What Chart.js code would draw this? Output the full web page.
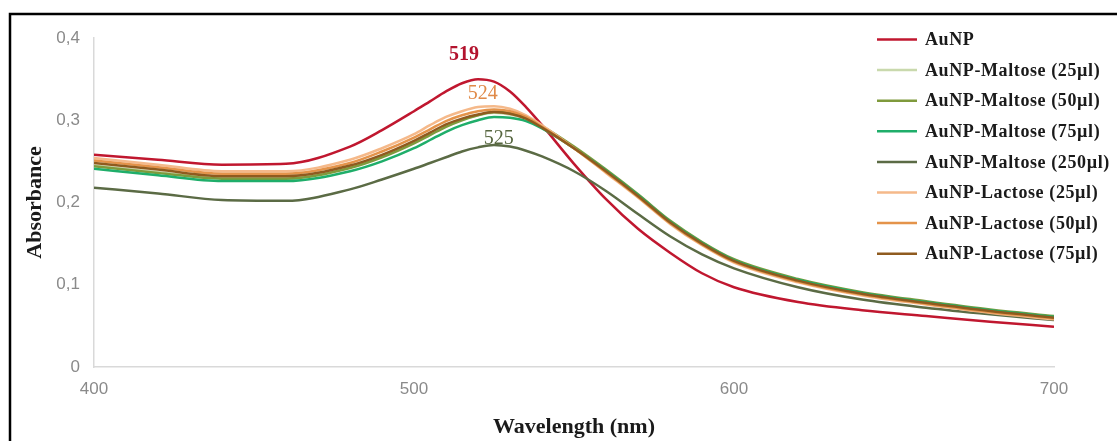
<!DOCTYPE html>
<html>
<head>
<meta charset="utf-8">
<script src="https://cdn.jsdelivr.net/npm/chart.js@4.4.1/dist/chart.umd.min.js"></script>
<style>
    html, body { margin: 0; padding: 0; background: #ffffff; }
    #chart { display: block; }
</style>
</head>
<body>
<canvas id="chart" width="1117" height="441"></canvas>
<script>
// Wavelengths (nm) shared by every series
const wavelengths = [400, 420, 440, 460, 480, 490, 500, 505, 510, 515, 520, 525, 530, 535, 540, 550, 560, 570, 580, 590, 600, 620, 640, 660, 680, 700];

// Absorbance values
const auNP         = [0.258, 0.252, 0.246, 0.247, 0.268, 0.288, 0.311, 0.323, 0.335, 0.345, 0.350, 0.347, 0.335, 0.316, 0.294, 0.247, 0.204, 0.168, 0.139, 0.114, 0.097, 0.079, 0.069, 0.062, 0.055, 0.049];
const maltose25    = [0.245, 0.237, 0.230, 0.230, 0.243, 0.256, 0.273, 0.283, 0.293, 0.301, 0.306, 0.309, 0.307, 0.302, 0.291, 0.266, 0.238, 0.208, 0.176, 0.150, 0.129, 0.105, 0.089, 0.078, 0.068, 0.060];
const maltose50    = [0.244, 0.236, 0.229, 0.229, 0.242, 0.255, 0.272, 0.282, 0.292, 0.300, 0.306, 0.310, 0.309, 0.303, 0.293, 0.268, 0.240, 0.210, 0.178, 0.152, 0.131, 0.107, 0.091, 0.080, 0.070, 0.062];
const maltose75    = [0.241, 0.233, 0.226, 0.226, 0.238, 0.250, 0.266, 0.276, 0.286, 0.294, 0.300, 0.304, 0.303, 0.299, 0.290, 0.266, 0.239, 0.209, 0.177, 0.151, 0.130, 0.106, 0.090, 0.079, 0.069, 0.061];
const maltose250   = [0.218, 0.211, 0.203, 0.202, 0.216, 0.228, 0.241, 0.248, 0.255, 0.262, 0.267, 0.270, 0.268, 0.263, 0.256, 0.238, 0.214, 0.186, 0.159, 0.137, 0.120, 0.097, 0.082, 0.072, 0.064, 0.057];
const lactose25    = [0.254, 0.246, 0.238, 0.238, 0.252, 0.266, 0.283, 0.294, 0.304, 0.311, 0.316, 0.317, 0.314, 0.306, 0.294, 0.266, 0.236, 0.206, 0.174, 0.148, 0.127, 0.103, 0.087, 0.076, 0.066, 0.058];
const lactose50    = [0.251, 0.243, 0.235, 0.235, 0.248, 0.262, 0.279, 0.289, 0.299, 0.306, 0.311, 0.313, 0.311, 0.304, 0.292, 0.266, 0.237, 0.207, 0.175, 0.149, 0.128, 0.104, 0.088, 0.077, 0.067, 0.059];
const lactose75    = [0.248, 0.240, 0.232, 0.232, 0.245, 0.258, 0.275, 0.285, 0.295, 0.302, 0.307, 0.310, 0.308, 0.302, 0.291, 0.266, 0.238, 0.208, 0.176, 0.150, 0.129, 0.105, 0.089, 0.078, 0.068, 0.060];

const seriesNames  = ['AuNP', 'AuNP-Maltose (25µl)', 'AuNP-Maltose (50µl)', 'AuNP-Maltose (75µl)', 'AuNP-Maltose (250µl)', 'AuNP-Lactose (25µl)', 'AuNP-Lactose (50µl)', 'AuNP-Lactose (75µl)'];
const seriesValues = [auNP, maltose25, maltose50, maltose75, maltose250, lactose25, lactose50, lactose75];
const seriesColors = ['#c0172f', '#c9d9ad', '#7f9a3c', '#1fae6a', '#5b6b45', '#f5b98a', '#e4934a', '#8f5b1f'];

// Axis ticks
const xTicks = [400, 500, 600, 700];
const yTicks = [0, 0.1, 0.2, 0.3, 0.4];
const yTickLabels = ['0', '0,1', '0,2', '0,3', '0,4'];

// Peak annotations (text anchor in data units)
const peakTexts  = ['519', '524', '525'];
const peakNm     = [515.6, 521.5, 526.5];
const peakAbs    = [0.379, 0.332, 0.277];
const peakColors = ['#b3132e', '#e08a48', '#56663f'];
const peakBold   = [true, false, false];

// Frame around the figure
const framePlugin = {
    id: 'frame',
    beforeDraw(chart) {
        const ctx = chart.ctx;
        ctx.save();
        ctx.fillStyle = '#ffffff';
        ctx.fillRect(0, 0, chart.width, chart.height);
        ctx.strokeStyle = '#000000';
        ctx.lineWidth = 2.5;
        ctx.beginPath();
        ctx.moveTo(10, chart.height);
        ctx.lineTo(10, 14);
        ctx.lineTo(chart.width, 14);
        ctx.stroke();
        ctx.restore();
    }
};

// Legend on top of the plot + peak labels
const overlayPlugin = {
    id: 'overlay',
    afterDraw(chart) {
        const ctx = chart.ctx;
        const x = chart.scales.x;
        const y = chart.scales.y;
        ctx.save();

        // peak labels
        ctx.textAlign = 'center';
        ctx.textBaseline = 'middle';
        peakTexts.forEach((t, i) => {
            ctx.font = (peakBold[i] ? 'bold ' : '') + '20px "Liberation Serif", serif';
            ctx.fillStyle = peakColors[i];
            ctx.fillText(t, x.getPixelForValue(peakNm[i]), y.getPixelForValue(peakAbs[i]));
        });

        // legend
        ctx.textAlign = 'left';
        ctx.font = 'bold 18px "Liberation Serif", serif';
        if ('letterSpacing' in ctx) ctx.letterSpacing = '0.6px';
        seriesNames.forEach((name, i) => {
            const rowY = 39.5 + i * 30.6;
            ctx.strokeStyle = seriesColors[i];
            ctx.lineWidth = 2.5;
            ctx.beginPath();
            ctx.moveTo(877, rowY);
            ctx.lineTo(917, rowY);
            ctx.stroke();
            ctx.fillStyle = '#1a1a1a';
            ctx.fillText(name, 925, rowY + 1);
        });
        ctx.restore();
    }
};

const datasets = seriesNames.map((name, i) => ({
    label: name,
    data: wavelengths.map((w, j) => ({ x: w, y: seriesValues[i][j] })),
    borderColor: seriesColors[i],
    backgroundColor: seriesColors[i],
    borderWidth: 2.5,
    pointRadius: 0,
    cubicInterpolationMode: 'monotone',
    fill: false,
    order: seriesNames.length - i // last series drawn on top, like Excel
}));

new Chart(document.getElementById('chart'), {
    type: 'line',
    data: { datasets: datasets },
    options: {
        responsive: false,
        animation: false,
        layout: { padding: { left: 18, top: 38, right: 63, bottom: 0 } },
        plugins: {
            legend: { display: false },
            tooltip: { enabled: false }
        },
        scales: {
            x: {
                type: 'linear',
                min: 400,
                max: 700,
                afterFit: (s) => { s.height = 74; },
                afterBuildTicks: (s) => { s.ticks = xTicks.map(v => ({ value: v })); },
                grid: { display: false, drawTicks: false },
                border: { display: true, color: '#d9d9d9', width: 1.5 },
                ticks: {
                    padding: 12,
                    color: '#8a8a8a',
                    font: { family: '"Liberation Sans", sans-serif', size: 17 },
                    callback: (v) => String(v)
                },
                title: {
                    display: true,
                    text: 'Wavelength (nm)',
                    color: '#1a1a1a',
                    padding: 0,
                    font: { family: '"Liberation Serif", serif', size: 22, weight: 'bold' }
                }
            },
            y: {
                min: 0,
                max: 0.4,
                afterFit: (s) => { s.width = 76; },
                afterBuildTicks: (s) => { s.ticks = yTicks.map(v => ({ value: v })); },
                grid: { display: false, drawTicks: false },
                border: { display: true, color: '#d9d9d9', width: 1.5 },
                ticks: {
                    padding: 14,
                    color: '#8a8a8a',
                    font: { family: '"Liberation Sans", sans-serif', size: 17 },
                    callback: (v) => yTickLabels[yTicks.indexOf(Math.round(v * 10) / 10)]
                },
                title: {
                    display: true,
                    text: 'Absorbance',
                    color: '#1a1a1a',
                    padding: { top: 4, bottom: 0 },
                    font: { family: '"Liberation Serif", serif', size: 22, weight: 'bold' }
                }
            }
        }
    },
    plugins: [framePlugin, overlayPlugin]
});
</script>
</body>
</html>
